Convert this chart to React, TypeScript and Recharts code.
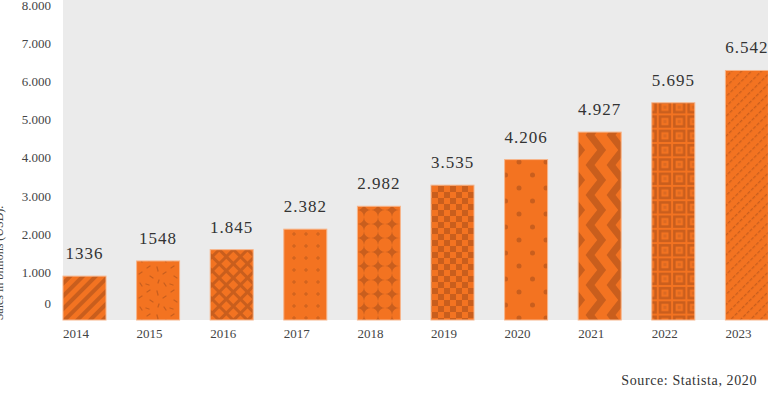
import { BarChart, Bar, XAxis, YAxis, CartesianGrid, LabelList } from 'recharts';

const years = ['2014', '2015', '2016', '2017', '2018', '2019', '2020', '2021', '2022', '2023'];
// bar heights as drawn (billions USD, in thousands of millions)
const sales = [1150, 1548, 1845, 2382, 2982, 3535, 4206, 4927, 5695, 6542];
// printed value labels (as shown above the bars)
const valueLabels = ['1336', '1548', '1.845', '2.382', '2.982', '3.535', '4.206', '4.927', '5.695', '6.542'];
const yTicks = [0, 1000, 2000, 3000, 4000, 5000, 6000, 7000, 8000];

const data = years.map((year, i) => ({ year, sales: sales[i], label: valueLabels[i] }));

const ORANGE = '#f37321';
const DARK = '#c95e1d';
const FONT = '"Liberation Serif", "DejaVu Serif", serif';
const BAND = 73.6;
const BAR_W = 43;

const patternFor = (i: number, id: string) => {
  switch (i) {
    case 0:
      return (
        <pattern id={id} width={9} height={9} patternUnits="userSpaceOnUse" patternTransform="rotate(45)">
          <rect width={9} height={9} fill={ORANGE} />
          <rect width={4} height={9} fill={DARK} />
        </pattern>
      );
    case 1:
      return (
        <pattern id={id} width={24} height={24} patternUnits="userSpaceOnUse">
          <rect width={24} height={24} fill={ORANGE} />
          <g stroke={DARK} strokeWidth={1.3} strokeLinecap="round">
            <line x1={3} y1={4} x2={6} y2={2} />
            <line x1={13} y1={3} x2={14} y2={7} />
            <line x1={19} y1={10} x2={22} y2={8} />
            <line x1={6} y1={12} x2={9} y2={14} />
            <line x1={15} y1={16} x2={14} y2={19} />
            <line x1={2} y1={20} x2={5} y2={21} />
            <line x1={20} y1={19} x2={22} y2={22} />
          </g>
        </pattern>
      );
    case 2:
      return (
        <pattern id={id} width={10} height={10} patternUnits="userSpaceOnUse" patternTransform="rotate(45)">
          <rect width={10} height={10} fill={ORANGE} />
          <rect width={10} height={3} fill={DARK} />
          <rect width={3} height={10} fill={DARK} />
        </pattern>
      );
    case 3:
      return (
        <pattern id={id} width={12} height={12} patternUnits="userSpaceOnUse">
          <rect width={12} height={12} fill={ORANGE} />
          <g stroke={DARK} strokeWidth={1}>
            <line x1={4} y1={6} x2={8} y2={6} />
            <line x1={6} y1={4} x2={6} y2={8} />
          </g>
        </pattern>
      );
    case 4:
      return (
        <pattern id={id} width={14} height={14} patternUnits="userSpaceOnUse">
          <rect width={14} height={14} fill={DARK} />
          <circle cx={7} cy={7} r={7} fill={ORANGE} />
        </pattern>
      );
    case 5:
      return (
        <pattern id={id} width={12} height={12} patternUnits="userSpaceOnUse">
          <rect width={12} height={12} fill={ORANGE} />
          <rect width={6} height={6} fill={DARK} />
          <rect x={6} y={6} width={6} height={6} fill={DARK} />
        </pattern>
      );
    case 6:
      return (
        <pattern id={id} width={27} height={26} patternUnits="userSpaceOnUse">
          <rect width={27} height={26} fill={ORANGE} />
          <circle cx={6} cy={6} r={2.5} fill={DARK} />
          <circle cx={19.5} cy={19} r={2.5} fill={DARK} />
        </pattern>
      );
    case 7:
      return (
        <pattern id={id} width={21} height={30} patternUnits="userSpaceOnUse">
          <rect width={21} height={30} fill={ORANGE} />
          <g stroke={DARK} strokeWidth={7} fill="none">
            <path d="M 16 -3 L 2 15 L 16 33" />
            <path d="M 37 -3 L 23 15 L 37 33" />
            <path d="M -5 -3 L -19 15 L -5 33" />
          </g>
        </pattern>
      );
    case 8:
      return (
        <pattern id={id} width={14.3} height={14.3} patternUnits="userSpaceOnUse">
          <rect width={14.3} height={14.3} fill={ORANGE} />
          <rect x={1} y={1} width={12.3} height={12.3} fill={DARK} />
          <rect x={3.5} y={3.5} width={7.3} height={7.3} fill={ORANGE} />
          <rect x={5.5} y={5.5} width={3.3} height={3.3} fill="#dc6a22" />
        </pattern>
      );
    default:
      return (
        <pattern id={id} width={7} height={5} patternUnits="userSpaceOnUse" patternTransform="rotate(45)">
          <rect width={7} height={5} fill={ORANGE} />
          <rect width={1.3} height={3.5} fill={DARK} />
        </pattern>
      );
  }
};

const PatternBar = (props: any) => {
  const { x, y, height, index } = props;
  const id = `pat-${index}`;
  return (
    <g>
      <defs>{patternFor(index, id)}</defs>
      <rect x={x} y={y} width={BAR_W} height={height} fill={`url(#${id})`} stroke="#f7b58b" strokeWidth={1} />
    </g>
  );
};

const ValueLabel = (props: any) => {
  const { x, y, value } = props;
  return (
    <text x={x + BAR_W / 2} y={y - 17} textAnchor="middle" fontFamily={FONT} fontSize={17} letterSpacing={1} fill="#333">
      {value}
    </text>
  );
};

const YearTick = (props: any) => {
  const { x, payload } = props;
  return (
    <text x={x - BAND / 2} y={338} textAnchor="start" fontFamily={FONT} fontSize={13} fill="#444">
      {payload.value}
    </text>
  );
};

const SalesTick = (props: any) => {
  const { y, payload } = props;
  const v = payload.value as number;
  return (
    <text x={51} y={y + (v === 0 ? -12 : -5)} textAnchor="end" fontFamily={FONT} fontSize={13} fill="#444">
      {v === 0 ? '0' : (v / 1000).toFixed(3)}
    </text>
  );
};

export default function App() {
  return (
    <div style={{ position: 'absolute', left: 0, top: 0, width: 768, height: 393, overflow: 'hidden', background: '#fff' }}>
      <BarChart width={810} height={393} data={data} margin={{ top: 0, right: 11, bottom: 0, left: 0 }} barCategoryGap={0}>
        <CartesianGrid horizontal={false} vertical={false} fill="#ebebeb" />
        <XAxis dataKey="year" height={73} axisLine={false} tickLine={false} interval={0} tick={<YearTick />} />
        <YAxis width={63} domain={[0, 8390]} ticks={yTicks} axisLine={false} tickLine={false} tick={<SalesTick />} />
        <Bar dataKey="sales" isAnimationActive={false} shape={<PatternBar />}>
          <LabelList dataKey="label" content={<ValueLabel />} />
        </Bar>
      </BarChart>
      <svg style={{ position: 'absolute', left: 0, top: 0 }} width={768} height={393} pointerEvents="none">
        <text
          x={3}
          y={263}
          transform="rotate(-90, 3, 263)"
          textAnchor="middle"
          fontFamily={FONT}
          fontSize={12}
          fill="#444"
        >
          Sales in billions (USD).
        </text>
        <text x={757} y={385} textAnchor="end" fontFamily={FONT} fontSize={14} letterSpacing={0.6} fill="#333">
          Source: Statista, 2020
        </text>
      </svg>
    </div>
  );
}
